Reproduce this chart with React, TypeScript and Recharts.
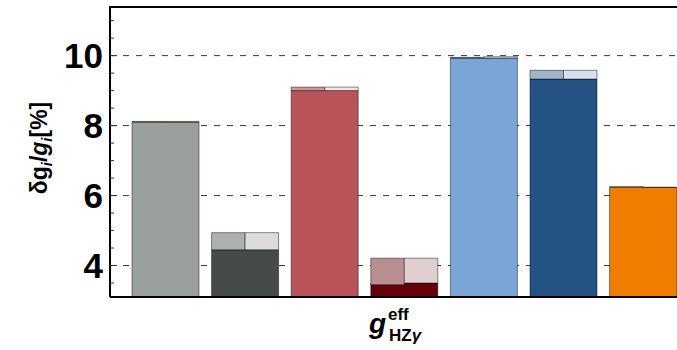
import { Bar, BarChart, CartesianGrid, Cell, ReferenceLine, XAxis, YAxis } from "recharts";

// one bar per coupling scenario, each split into a left/right half on top
const CATEGORIES = ["a", "b", "c", "d", "e", "f", "g"];
const BASE = [8.1, 4.45, 9.0, 3.5, 9.93, 9.33, 6.23];
const LEFT_LOW = [8.1, 4.45, 9.0, 3.45, 9.93, 9.33, 6.23];
const LEFT_HIGH = [8.12, 4.94, 9.1, 4.21, 9.95, 9.58, 6.26];
const RIGHT_LOW = [8.1, 4.45, 9.0, 3.5, 9.93, 9.33, 6.23];
const RIGHT_HIGH = [8.12, 4.94, 9.1, 4.21, 9.97, 9.58, 6.24];

const BASE_COLORS = ["#9aa09b", "#454b47", "#b9535a", "#650008", "#7aa6d6", "#245282", "#f07d00"];
const LEFT_TINTS = ["#a8ada9", "#adb0ad", "#d0999c", "#b98e90", "#9fb7d3", "#9fb4ca", "#c9a58a"];
const RIGHT_TINTS = ["#dfe1df", "#dcdcdc", "#f3e4e4", "#e0cfd0", "#dde7f3", "#d8e1ea", "#f3d9bf"];

const Y_MIN = 3.1;
const Y_MAX = 11.39;
const Y_TICKS = [3.5, 4, 4.5, 5, 5.5, 6, 6.5, 7, 7.5, 8, 8.5, 9, 9.5, 10, 10.5, 11];
const GRID_VALUES = [4, 6, 8, 10];

const data = CATEGORIES.map((name, i) => ({
  name,
  base: BASE[i],
  leftGap: LEFT_LOW[i],
  left: LEFT_HIGH[i] - LEFT_LOW[i],
  rightGap: RIGHT_LOW[i],
  right: RIGHT_HIGH[i] - RIGHT_LOW[i],
}));

const AXIS_X = 110;
const EDGE = "rgba(0,0,0,0.45)";
const FONT = "'Liberation Sans', Arial, sans-serif";

function YTick({ y, payload }: any) {
  const major = GRID_VALUES.includes(payload.value);
  return (
    <g>
      <line x1={AXIS_X} x2={AXIS_X + (major ? 7 : 4)} y1={y} y2={y} stroke="#333" strokeWidth={1} />
      {major && (
        <text x={103} y={y + 12.5} textAnchor="end" fontSize={35} fontWeight="bold" fontFamily={FONT} fill="#000">
          {payload.value}
        </text>
      )}
    </g>
  );
}

// axis title, plus the top edge of the frame drawn from the axis box
function YLabel({ viewBox }: any) {
  const top = viewBox ? viewBox.y : 7;
  return (
    <g>
      <line x1={AXIS_X - 1} x2={700} y1={top} y2={top} stroke="#000" strokeWidth={2} />
      <text
        transform="translate(47,148) rotate(-90)"
        textAnchor="middle"
        fontSize={23}
        fontWeight="bold"
        fontFamily={FONT}
        fill="#000"
      >
        <tspan>δg</tspan>
        <tspan fontStyle="italic" fontSize={15} dy={5}>i</tspan>
        <tspan dy={-5}>/</tspan>
        <tspan fontStyle="italic">g</tspan>
        <tspan fontStyle="italic" fontSize={15} dy={5}>i</tspan>
        <tspan dy={-5}>[%]</tspan>
      </text>
    </g>
  );
}

function XLabel() {
  return (
    <g fontFamily={FONT} fontWeight="bold" fill="#000">
      <text x={369} y={333} fontSize={28} fontStyle="italic">g</text>
      <text x={388} y={320} fontSize={17}>eff</text>
      <text x={389} y={341} fontSize={17}>
        HZ<tspan fontStyle="italic">γ</tspan>
      </text>
    </g>
  );
}

export default function App() {
  return (
    <div style={{ position: "absolute", left: 0, top: 0, width: 677, height: 350, overflow: "hidden", background: "#fff" }}>
      <BarChart
        width={700}
        height={350}
        data={data}
        margin={{ top: 7, right: 16.8, bottom: 0, left: 0 }}
        barGap={0}
      >
        <CartesianGrid
          xAxisId="full"
          vertical={false}
          horizontalValues={GRID_VALUES}
          stroke="#3a3a3a"
          strokeDasharray="6 7"
        />
        <XAxis
          xAxisId="full"
          dataKey="name"
          height={53}
          padding={{ left: 16, right: 0 }}
          tick={false}
          tickLine={false}
          axisLine={{ stroke: "#000", strokeWidth: 2 }}
          label={{ content: () => <XLabel /> }}
        />
        <XAxis xAxisId="half" dataKey="name" hide padding={{ left: 16, right: 0 }} />
        <YAxis
          type="number"
          domain={[Y_MIN, Y_MAX]}
          allowDataOverflow
          ticks={Y_TICKS}
          interval={0}
          width={AXIS_X}
          tickSize={0}
          tickLine={false}
          tick={<YTick />}
          axisLine={{ stroke: "#000", strokeWidth: 2 }}
          label={{ content: (props: any) => <YLabel {...props} /> }}
        />
        <Bar xAxisId="full" dataKey="base" barSize={67} stroke={EDGE} strokeWidth={1} isAnimationActive={false}>
          {data.map((_, i) => (
            <Cell key={i} fill={BASE_COLORS[i]} />
          ))}
        </Bar>
        <Bar xAxisId="half" dataKey="leftGap" stackId="L" barSize={33.5} fill="none" stroke="none" isAnimationActive={false} />
        <Bar xAxisId="half" dataKey="left" stackId="L" barSize={33.5} stroke={EDGE} strokeWidth={1} isAnimationActive={false}>
          {data.map((_, i) => (
            <Cell key={i} fill={LEFT_TINTS[i]} />
          ))}
        </Bar>
        <Bar xAxisId="half" dataKey="rightGap" stackId="R" barSize={33.5} fill="none" stroke="none" isAnimationActive={false} />
        <Bar xAxisId="half" dataKey="right" stackId="R" barSize={33.5} stroke={EDGE} strokeWidth={1} isAnimationActive={false}>
          {data.map((_, i) => (
            <Cell key={i} fill={RIGHT_TINTS[i]} />
          ))}
        </Bar>
        <ReferenceLine xAxisId="full" y={Y_MIN} stroke="#000" strokeWidth={2} />
      </BarChart>
    </div>
  );
}
